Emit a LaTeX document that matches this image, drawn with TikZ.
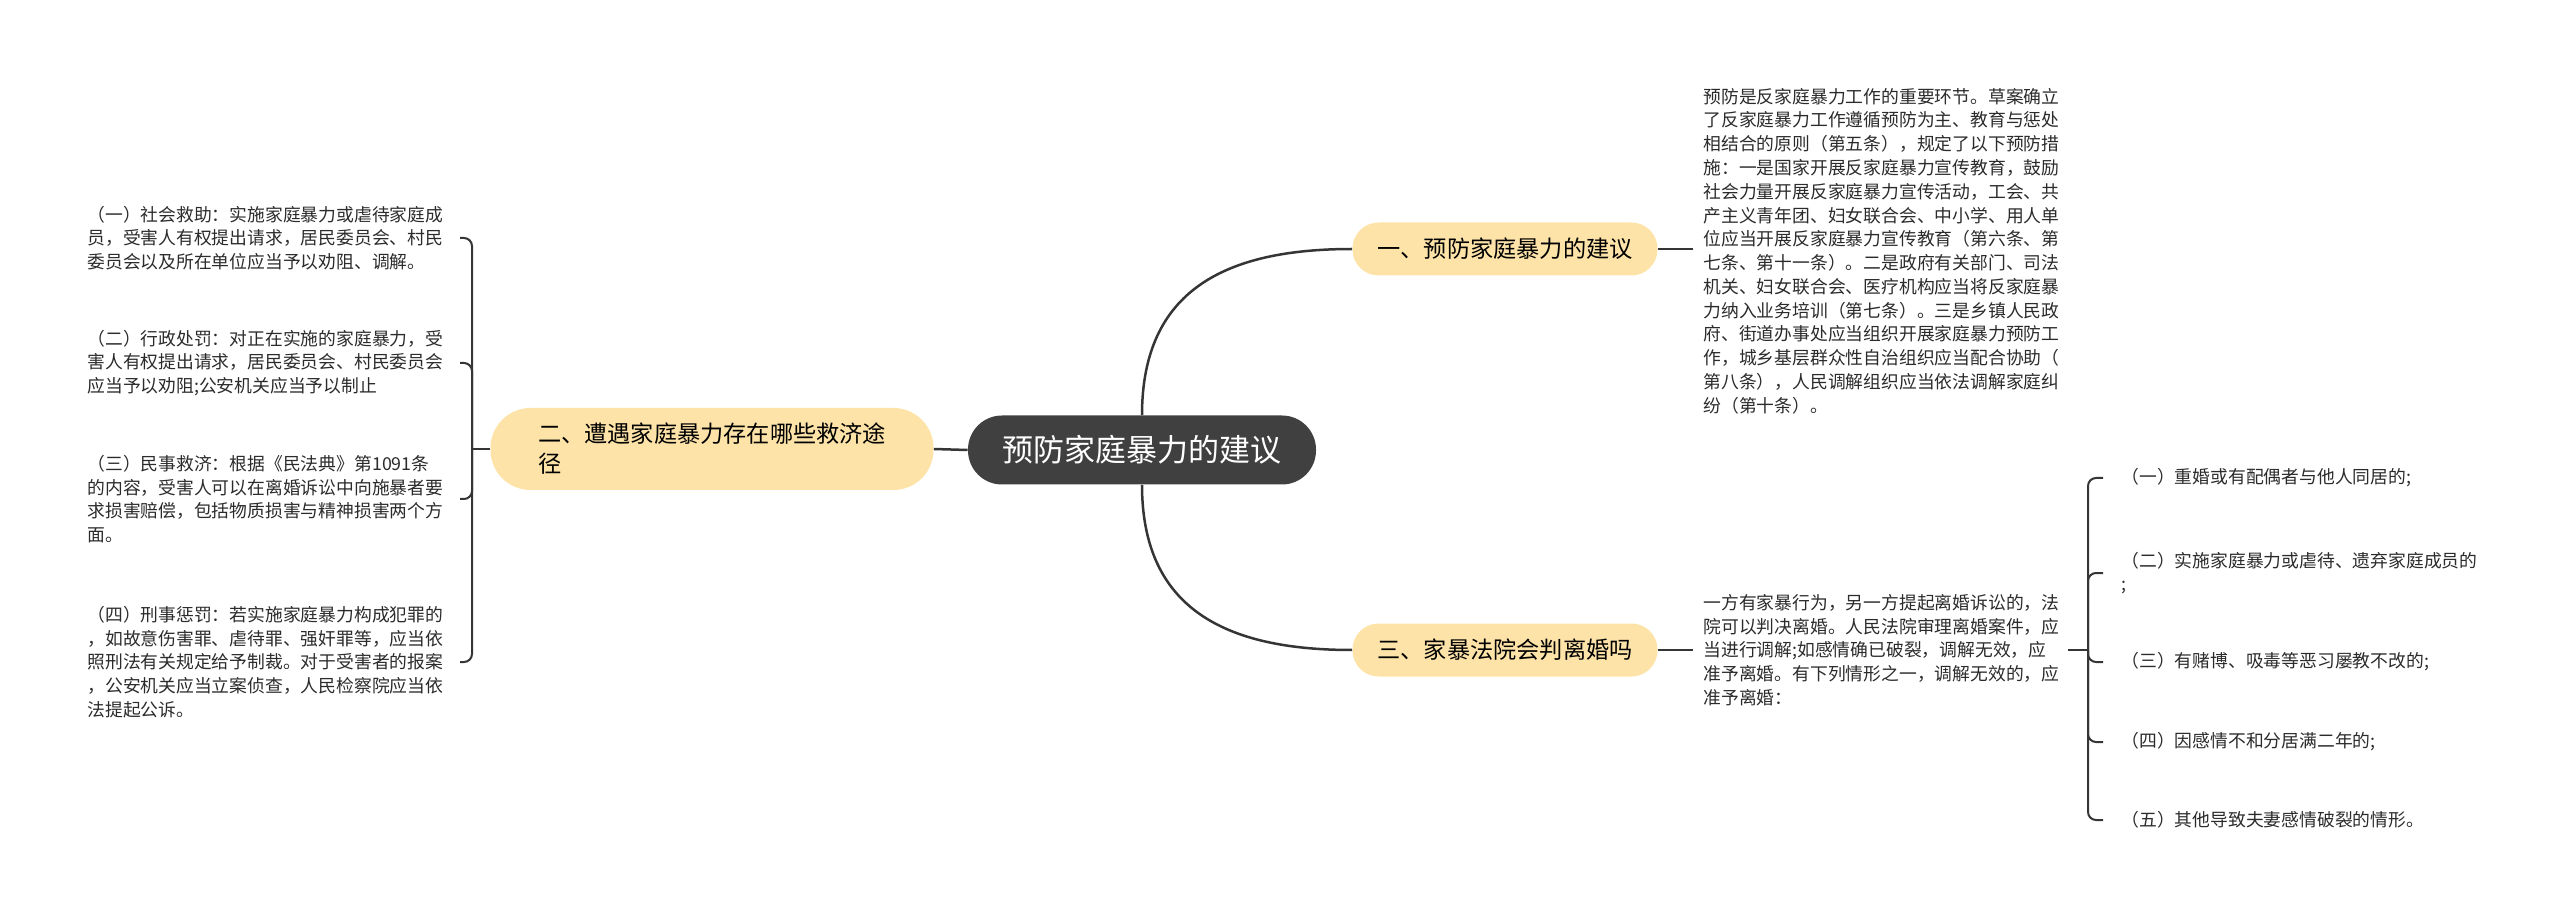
\documentclass[tikz,border=0pt]{standalone}
\usepackage{fontspec}
\setmainfont{Noto Sans CJK SC}
\usepackage{xcolor}
\usetikzlibrary{positioning}
\definecolor{rootgray}{HTML}{404040}
\definecolor{branchfill}{HTML}{FDE3A8}
\definecolor{linegray}{HTML}{353535}
\definecolor{textgray}{HTML}{2B2B2B}

\begin{document}
\begin{tikzpicture}[x=0.5pt,y=-0.5pt,
rootbox/.style={fill=rootgray,text=white,rounded corners=17pt,minimum width=174pt,minimum height=34.5pt,inner sep=2pt,font=\fontsize{15.5pt}{18pt}\selectfont},
branchbox/.style={fill=branchfill,text=black,rounded corners=13pt,minimum width=152.5pt,minimum height=26.5pt,inner sep=2pt,font=\fontsize{11.6pt}{15pt}\selectfont},
leaftext/.style={text=textgray,align=left,inner sep=0pt,anchor=west,font=\fontsize{8.9pt}{11.9pt}\selectfont},
mainline/.style={draw=linegray,line width=1.25pt},
subline/.style={draw=linegray,line width=1pt,rounded corners=4pt}]
\useasboundingbox (0,0) rectangle (2560,919);
\node[rootbox](root) at (1142,450){预防家庭暴力的建议};
\node[branchbox](b1) at (1505,249){一、预防家庭暴力的建议};
\node[branchbox,align=left,minimum width=221.5pt,minimum height=41pt,rounded corners=20pt](b2) at (712,449){二、遭遇家庭暴力存在哪些救济途\\径};
\node[branchbox](b3) at (1505,650){三、家暴法院会判离婚吗};
% left side
\node[leaftext](l1) at (87,238){（一）社会救助：实施家庭暴力或虐待家庭成\\员，受害人有权提出请求，居民委员会、村民\\委员会以及所在单位应当予以劝阻、调解。};
\node[leaftext](l2) at (87,363){（二）行政处罚：对正在实施的家庭暴力，受\\害人有权提出请求，居民委员会、村民委员会\\应当予以劝阻;公安机关应当予以制止};
\node[leaftext](l3) at (87,499){（三）民事救济：根据《民法典》第1091条\\的内容，受害人可以在离婚诉讼中向施暴者要\\求损害赔偿，包括物质损害与精神损害两个方\\面。};
\node[leaftext](l4) at (87,662){（四）刑事惩罚：若实施家庭暴力构成犯罪的\\，如故意伤害罪、虐待罪、强奸罪等，应当依\\照刑法有关规定给予制裁。对于受害者的报案\\，公安机关应当立案侦查，人民检察院应当依\\法提起公诉。};
% right side
\node[leaftext](r1) at (1703,251){预防是反家庭暴力工作的重要环节。草案确立\\了反家庭暴力工作遵循预防为主、教育与惩处\\相结合的原则（第五条），规定了以下预防措\\施：一是国家开展反家庭暴力宣传教育，鼓励\\社会力量开展反家庭暴力宣传活动，工会、共\\产主义青年团、妇女联合会、中小学、用人单\\位应当开展反家庭暴力宣传教育（第六条、第\\七条、第十一条）。二是政府有关部门、司法\\机关、妇女联合会、医疗机构应当将反家庭暴\\力纳入业务培训（第七条）。三是乡镇人民政\\府、街道办事处应当组织开展家庭暴力预防工\\作，城乡基层群众性自治组织应当配合协助（\\第八条），人民调解组织应当依法调解家庭纠\\纷（第十条）。};
\node[leaftext](r3) at (1703,650){一方有家暴行为，另一方提起离婚诉讼的，法\\院可以判决离婚。人民法院审理离婚案件，应\\当进行调解;如感情确已破裂，调解无效，应\\准予离婚。有下列情形之一，调解无效的，应\\准予离婚：};
\node[leaftext](d1) at (2121,478){（一）重婚或有配偶者与他人同居的;};
\node[leaftext](d2) at (2121,573){（二）实施家庭暴力或虐待、遗弃家庭成员的\\;};
\node[leaftext](d3) at (2121,662){（三）有赌博、吸毒等恶习屡教不改的;};
\node[leaftext](d4) at (2121,742){（四）因感情不和分居满二年的;};
\node[leaftext](d5) at (2121,820){（五）其他导致夫妻感情破裂的情形。};
\coordinate (j2) at (472,449);
\coordinate (hookL) at (460,0);
\coordinate (j3) at (2088,650);
\coordinate (hookR) at (2103,0);
% connectors
\draw[mainline](root.west)--(b2.east);
\draw[mainline](root.north) to[out=90,in=180,looseness=1.2] (b1.west);
\draw[mainline](root.south) to[out=-90,in=180,looseness=1.2] (b3.west);
\draw[mainline,shorten >=5pt](b1.east)--(b1.east -| r1.west);
\draw[mainline,shorten >=5pt](b3.east)--(b3.east -| r3.west);
\draw[mainline](b2.west)--(j2);
\foreach \n in {l1,l2,l3,l4}
  \draw[subline](j2)|-(\n.east -| hookL);
\draw[subline,shorten <=4pt](r3.east)--(j3);
\foreach \n in {d1,d2,d3,d4,d5}
  \draw[subline](j3)|-(\n.west -| hookR);
\end{tikzpicture}
\end{document}
